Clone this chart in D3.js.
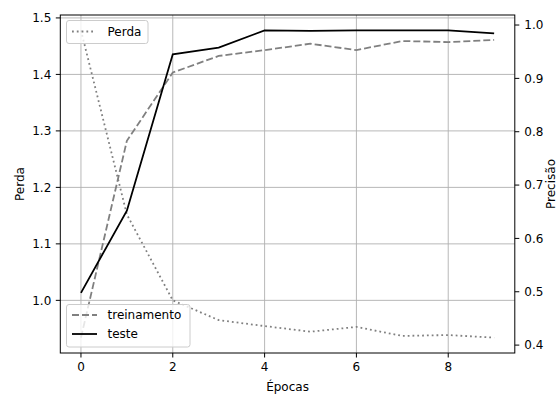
<!DOCTYPE html>
<html><head><meta charset="utf-8">
<script src="https://cdn.jsdelivr.net/npm/d3@7"></script>
<style>
body{margin:0;background:#fff}
svg{display:block}
text{font-family:"DejaVu Sans",sans-serif;font-size:12px;fill:#000}
</style>
</head><body><svg id="c" width="558" height="394"></svg>
<script>
const epochs=[0,1,2,3,4,5,6,7,8,9];
const perda=[1.478,1.152,1.000,0.965,0.9545,0.9445,0.953,0.937,0.9386,0.934];
const treinamento=[0.414,0.783,0.911,0.942,0.953,0.965,0.953,0.970,0.968,0.972];
const teste=[0.498,0.652,0.945,0.9576,0.990,0.989,0.990,0.990,0.990,0.9845];
const xTicks=[0,2,4,6,8];
const yLeftTicks=[1.0,1.1,1.2,1.3,1.4,1.5];
const yRightTicks=[0.4,0.5,0.6,0.7,0.8,0.9,1.0];

const L=60.3,R=514.8,T=15,B=353;
const svg=d3.select("#c");
function pad(arr){const mn=d3.min(arr),mx=d3.max(arr),r=mx-mn;return [mn-0.05*r,mx+0.05*r];}
const x=d3.scaleLinear().domain([-0.45,9.45]).range([L,R]);
const yL=d3.scaleLinear().domain(pad(perda)).range([B,T]);
const yR=d3.scaleLinear().domain(pad(treinamento.concat(teste))).range([B,T]);

// grid
const g=svg.append("g");
g.selectAll(".gx").data(xTicks).enter().append("line")
 .attr("x1",d=>x(d)).attr("x2",d=>x(d)).attr("y1",T).attr("y2",B)
 .attr("stroke","#b0b0b0").attr("stroke-width",0.9);
g.selectAll(".gy").data(yLeftTicks).enter().append("line")
 .attr("x1",L).attr("x2",R).attr("y1",d=>yL(d)).attr("y2",d=>yL(d))
 .attr("stroke","#b0b0b0").attr("stroke-width",0.9);

// lines
const lineL=d3.line().x((d,i)=>x(epochs[i])).y(d=>yL(d));
const lineR=d3.line().x((d,i)=>x(epochs[i])).y(d=>yR(d));
svg.append("clipPath").attr("id","cp").append("rect").attr("x",L).attr("y",T).attr("width",R-L).attr("height",B-T);
const lg=svg.append("g").attr("clip-path","url(#cp)");
lg.append("path").datum(perda).attr("d",lineL).attr("fill","none")
 .attr("stroke","#808080").attr("stroke-width",1.8).attr("stroke-dasharray","1.8,3");

function legendBox(x0,y0,w,h){
  svg.append("rect").attr("x",x0).attr("y",y0).attr("width",w).attr("height",h)
   .attr("rx",2.5).attr("fill","#fff").attr("fill-opacity",0.8).attr("stroke","#cccccc").attr("stroke-width",1);
}
// legend 1 (Perda)
legendBox(66.5,20.5,81.5,23);
svg.append("line").attr("x1",72).attr("x2",96).attr("y1",31.5).attr("y2",31.5)
 .attr("stroke","#808080").attr("stroke-width",1.8).attr("stroke-dasharray","1.8,3");
svg.append("text").attr("x",107.5).attr("y",35.8).text("Perda");

const lg2=svg.append("g").attr("clip-path","url(#cp)");
lg2.append("path").datum(treinamento).attr("d",lineR).attr("fill","none")
 .attr("stroke","#808080").attr("stroke-width",1.8).attr("stroke-dasharray","7,3");
lg2.append("path").datum(teste).attr("d",lineR).attr("fill","none")
 .attr("stroke","#000").attr("stroke-width",1.8);

// frame
svg.append("rect").attr("x",L).attr("y",T).attr("width",R-L).attr("height",B-T)
 .attr("fill","none").attr("stroke","#000").attr("stroke-width",1);

// axes
const ax=svg.append("g");
xTicks.forEach(t=>{
  ax.append("line").attr("x1",x(t)).attr("x2",x(t)).attr("y1",B).attr("y2",B+4.5).attr("stroke","#000");
  ax.append("text").attr("x",x(t)).attr("y",371).attr("text-anchor","middle").text(d3.format("d")(t));
});
yLeftTicks.forEach(t=>{
  ax.append("line").attr("x1",L-4.5).attr("x2",L).attr("y1",yL(t)).attr("y2",yL(t)).attr("stroke","#000");
  ax.append("text").attr("x",L-9).attr("y",yL(t)+4.3).attr("text-anchor","end").text(d3.format(".1f")(t));
});
yRightTicks.forEach(t=>{
  ax.append("line").attr("x1",R).attr("x2",R+4.5).attr("y1",yR(t)).attr("y2",yR(t)).attr("stroke","#000");
  ax.append("text").attr("x",R+9.5).attr("y",yR(t)+4.3).attr("text-anchor","start").text(d3.format(".1f")(t));
});
svg.append("text").attr("x",(L+R)/2).attr("y",390.5).attr("text-anchor","middle").text("Épocas");
svg.append("text").attr("transform",`translate(23.5,${(T+B)/2}) rotate(-90)`).attr("text-anchor","middle").text("Perda");
svg.append("text").attr("transform",`translate(554.5,${(T+B)/2}) rotate(-90)`).attr("text-anchor","middle").text("Precisão");

// legend 2
legendBox(66.5,304.5,123.5,42.5);
svg.append("line").attr("x1",72).attr("x2",97).attr("y1",315).attr("y2",315)
 .attr("stroke","#808080").attr("stroke-width",1.8).attr("stroke-dasharray","7,3");
svg.append("text").attr("x",107.5).attr("y",319.3).text("treinamento");
svg.append("line").attr("x1",72).attr("x2",97).attr("y1",334).attr("y2",334)
 .attr("stroke","#000").attr("stroke-width",1.8);
svg.append("text").attr("x",107.5).attr("y",338.3).text("teste");
</script>
</body></html>
